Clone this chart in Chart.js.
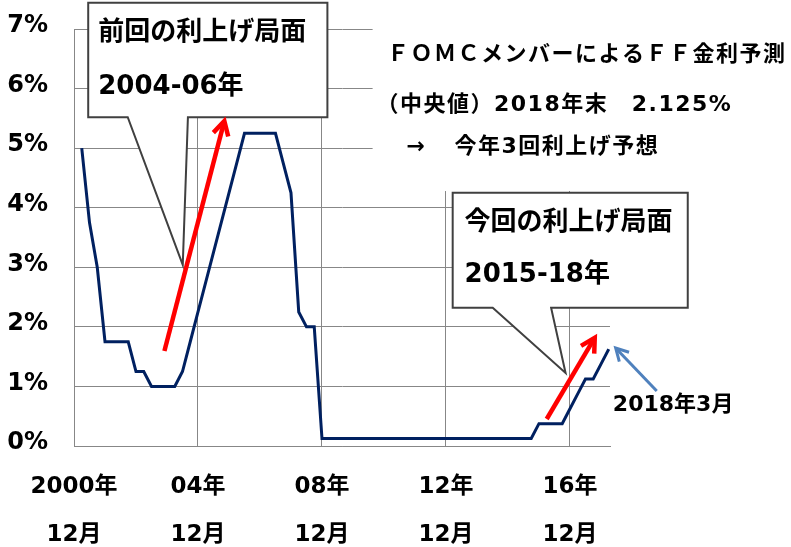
<!DOCTYPE html>
<html>
<head>
<meta charset="utf-8">
<script src="https://cdn.jsdelivr.net/npm/chart.js@4"></script>
<style>
  html, body { margin: 0; padding: 0; background: #fff; }
  canvas { display: block; }
</style>
</head>
<body>
<canvas id="ffChart" width="791" height="547"></canvas>
<script>
// quarter-end FF target rate (midpoint of the range after 2008)
const periods = [
  '2001-03', '2001-06', '2001-09', '2001-12',
  '2002-03', '2002-06', '2002-09', '2002-12',
  '2003-03', '2003-06', '2003-09', '2003-12',
  '2004-03', '2004-06', '2004-09', '2004-12',
  '2005-03', '2005-06', '2005-09', '2005-12',
  '2006-03', '2006-06', '2006-09', '2006-12',
  '2007-03', '2007-06', '2007-09', '2007-12',
  '2008-03', '2008-06', '2008-09', '2008-12',
  '2009-03', '2009-06', '2009-09', '2009-12',
  '2010-03', '2010-06', '2010-09', '2010-12',
  '2011-03', '2011-06', '2011-09', '2011-12',
  '2012-03', '2012-06', '2012-09', '2012-12',
  '2013-03', '2013-06', '2013-09', '2013-12',
  '2014-03', '2014-06', '2014-09', '2014-12',
  '2015-03', '2015-06', '2015-09', '2015-12',
  '2016-03', '2016-06', '2016-09', '2016-12',
  '2017-03', '2017-06', '2017-09', '2017-12',
  '2018-03'
];
const ffRate = [
  5.00, 3.75, 3.00, 1.75,
  1.75, 1.75, 1.75, 1.25,
  1.25, 1.00, 1.00, 1.00,
  1.00, 1.25, 1.75, 2.25,
  2.75, 3.25, 3.75, 4.25,
  4.75, 5.25, 5.25, 5.25,
  5.25, 5.25, 4.75, 4.25,
  2.25, 2.00, 2.00, 0.125,
  0.125, 0.125, 0.125, 0.125,
  0.125, 0.125, 0.125, 0.125,
  0.125, 0.125, 0.125, 0.125,
  0.125, 0.125, 0.125, 0.125,
  0.125, 0.125, 0.125, 0.125,
  0.125, 0.125, 0.125, 0.125,
  0.125, 0.125, 0.125, 0.375,
  0.375, 0.375, 0.375, 0.625,
  0.875, 1.125, 1.125, 1.375,
  1.625
];

// x axis = months since Dec 2000
const xTickValues = [0, 48, 96, 144, 192];
const xTickLabels = [
  ['2000年', '12月'],
  ['04年', '12月'],
  ['08年', '12月'],
  ['12年', '12月'],
  ['16年', '12月']
];
const yTickValues = [0, 1, 2, 3, 4, 5, 6, 7];

function monthIndex(p) {
  const [y, m] = p.split('-').map(Number);
  return (y - 2000) * 12 + m - 12;
}

const FONT = '"DejaVu Sans", "Noto Sans CJK JP", sans-serif';
const GRID = '#878787';

// annotation geometry in data units (x: months, y: %)
const callouts = [
  { lines: ['前回の利上げ局面', '2004-06年'], box: [5.5, 7.44, 98.1, 5.52],
    base: [20.8, 44.1], tip: [42.1, 3.04], textX: 9.4, textY: [6.93, 6.03] },
  { lines: ['今回の利上げ局面', '2015-18年'], box: [146.6, 4.25, 237.6, 2.32],
    base: [162.1, 184.7], tip: [190.3, 1.225], textX: 151.2, textY: [3.74, 2.87] }
];
const noteBox = { left: 115.6, bottom: 4.28 };
const noteLines = [
  { text: 'ＦＯＭＣメンバーによるＦＦ金利予測', x: 121.2, y: 6.56 },
  { text: '（中央値）2018年末　2.125%', x: 117.1, y: 5.72 },
  { text: '→', x: 128.7, y: 5.02 },
  { text: '今年3回利上げ予想', x: 147.3, y: 5.02 }
];
const arrows = [
  { from: [35.0, 1.595], to: [58.2, 5.456], color: '#ff0000', width: 4.5, head: 16 },
  { from: [183.0, 0.453], to: [201.6, 1.818], color: '#ff0000', width: 4.5, head: 16 },
  { from: [225.6, 0.923], to: [209.7, 1.645], color: '#4f81bd', width: 3, head: 14 }
];
const lastLabel = { text: '2018年3月', x: 208.6, y: 0.688 };

const annotate = {
  id: 'annotate',
  beforeDatasetsDraw(chart) {
    const { ctx, scales: { x, y } } = chart;
    const px = (v) => x.getPixelForValue(v);
    const py = (v) => y.getPixelForValue(v);
    ctx.save();
    // text box behind the FOMC note hides the grid
    ctx.fillStyle = '#fff';
    ctx.fillRect(px(noteBox.left), 0, chart.width - px(noteBox.left), py(noteBox.bottom));
    // callout boxes
    callouts.forEach((c) => {
      const [l, t, r, b] = [px(c.box[0]), py(c.box[1]), px(c.box[2]), py(c.box[3])];
      ctx.beginPath();
      ctx.moveTo(l, t);
      ctx.lineTo(r, t);
      ctx.lineTo(r, b);
      ctx.lineTo(px(c.base[1]), b);
      ctx.lineTo(px(c.tip[0]), py(c.tip[1]));
      ctx.lineTo(px(c.base[0]), b);
      ctx.lineTo(l, b);
      ctx.closePath();
      ctx.fillStyle = '#fff';
      ctx.fill();
      ctx.lineWidth = 2;
      ctx.strokeStyle = '#404040';
      ctx.stroke();
      ctx.fillStyle = '#000';
      ctx.font = 'bold 26px ' + FONT;
      ctx.textBaseline = 'middle';
      ctx.textAlign = 'left';
      c.lines.forEach((s, i) => ctx.fillText(s, px(c.textX), py(c.textY[i])));
    });
    ctx.restore();
  },
  afterDraw(chart) {
    const { ctx, scales: { x, y } } = chart;
    const px = (v) => x.getPixelForValue(v);
    const py = (v) => y.getPixelForValue(v);
    ctx.save();
    arrows.forEach((a) => {
      const x0 = px(a.from[0]), y0 = py(a.from[1]);
      const x1 = px(a.to[0]), y1 = py(a.to[1]);
      const ang = Math.atan2(y1 - y0, x1 - x0);
      ctx.strokeStyle = a.color;
      ctx.lineWidth = a.width;
      ctx.lineCap = 'butt';
      ctx.lineJoin = 'miter';
      ctx.beginPath();
      ctx.moveTo(x0, y0);
      ctx.lineTo(x1 - Math.cos(ang) * 2, y1 - Math.sin(ang) * 2);
      ctx.stroke();
      ctx.beginPath();
      ctx.moveTo(x1 - a.head * Math.cos(ang - 0.5), y1 - a.head * Math.sin(ang - 0.5));
      ctx.lineTo(x1, y1);
      ctx.lineTo(x1 - a.head * Math.cos(ang + 0.5), y1 - a.head * Math.sin(ang + 0.5));
      ctx.stroke();
    });
    ctx.fillStyle = '#000';
    ctx.textBaseline = 'middle';
    ctx.textAlign = 'left';
    ctx.font = 'bold 22px ' + FONT;
    ctx.letterSpacing = '1.5px';
    noteLines.forEach((n) => ctx.fillText(n.text, px(n.x), py(n.y)));
    ctx.letterSpacing = '0px';
    ctx.fillText(lastLabel.text, px(lastLabel.x), py(lastLabel.y));
    ctx.restore();
  }
};

new Chart(document.getElementById('ffChart'), {
  type: 'line',
  data: {
    datasets: [{
      data: periods.map((p, i) => ({ x: monthIndex(p), y: ffRate[i] })),
      borderColor: '#002060',
      borderWidth: 3,
      pointRadius: 0,
      tension: 0,
      fill: false
    }]
  },
  options: {
    responsive: false,
    animation: false,
    layout: { padding: { top: 29, right: 181, left: 0, bottom: 0 } },
    plugins: { legend: { display: false }, tooltip: { enabled: false } },
    scales: {
      x: {
        type: 'linear',
        min: 0,
        max: 207.5,
        afterBuildTicks: (s) => { s.ticks = xTickValues.map((v) => ({ value: v })); },
        afterFit: (s) => { s.height = 101; s.paddingLeft = 0; s.paddingRight = 0; },
        ticks: {
          autoSkip: false,
          maxRotation: 0,
          padding: 17,
          color: '#000',
          font: { family: FONT, size: 23, weight: 'bold', lineHeight: '48px' },
          callback: (v) => xTickLabels[xTickValues.indexOf(v)]
        },
        grid: { color: GRID, drawTicks: false },
        border: { color: GRID }
      },
      y: {
        min: 0,
        max: 7,
        afterBuildTicks: (s) => { s.ticks = yTickValues.map((v) => ({ value: v })); },
        afterFit: (s) => { s.width = 74; s.paddingTop = 0; s.paddingBottom = 0; },
        ticks: {
          padding: 26,
          labelOffset: -3,
          color: '#000',
          font: { family: FONT, size: 24, weight: 'bold' },
          callback: (v) => v + '%'
        },
        grid: { color: GRID, drawTicks: false },
        border: { color: GRID }
      }
    }
  },
  plugins: [annotate]
});
</script>
</body>
</html>
